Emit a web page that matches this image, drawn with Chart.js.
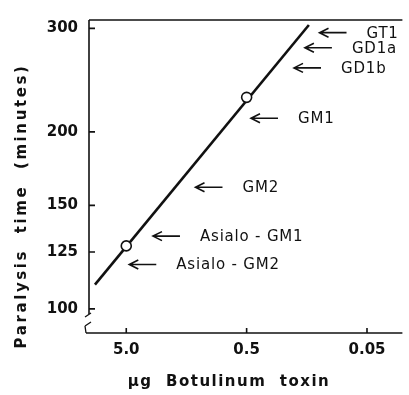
<!DOCTYPE html>
<html>
<head>
<meta charset="utf-8">
<script src="https://cdn.jsdelivr.net/npm/chart.js@4.4.0/dist/chart.umd.min.js"></script>
<style>
  html, body { margin: 0; padding: 0; background: #fff; }
  #wrap { width: 409px; height: 395px; }
</style>
</head>
<body>
<div id="wrap"><canvas id="myChart"></canvas></div>
<script>
// dose (ug) and paralysis time (minutes)
const fitDose = [9.1, 0.152];
const fitTime = [110, 304];
const measuredDose = [5.0, 0.5];
const measuredTime = [128, 229];

const xTicks = [5.0, 0.5, 0.05];
const xTickLabels = ['5.0', '0.5', '0.05'];
const yTicks = [100, 125, 150, 200, 300];

// gangliosides, arrow tip in data units
const ganglioside = ['GT1', 'GD1a', 'GD1b', 'GM1', 'GM2', 'Asialo - GM1', 'Asialo - GM2'];
const arrowDose = [0.124, 0.164, 0.202, 0.46, 1.33, 3.0, 4.72];
const arrowTime = [295, 278, 257, 211, 161, 133, 119];

const ink = '#111';
const fontFam = "'DejaVu Sans', sans-serif";

// frame, inward ticks, axis break, arrows and titles
const paperPlugin = {
  id: 'paper',
  afterDraw(chart) {
    const ctx = chart.ctx;
    const a = chart.chartArea;
    const xs = chart.scales.x, ys = chart.scales.y;
    ctx.save();
    ctx.strokeStyle = ink;
    ctx.lineWidth = 1.6;
    ctx.lineCap = 'butt';

    // top border
    ctx.beginPath();
    ctx.moveTo(a.left, a.top);
    ctx.lineTo(a.right, a.top);
    ctx.stroke();

    // left axis down to the break
    const yBreak = ys.getPixelForValue(100) + 5;
    ctx.beginPath();
    ctx.moveTo(a.left, a.top);
    ctx.lineTo(a.left, yBreak);
    ctx.stroke();

    // break mark
    ctx.lineWidth = 1.3;
    ctx.beginPath();
    ctx.moveTo(a.left - 4, yBreak + 3);
    ctx.lineTo(a.left + 2, yBreak - 1);
    ctx.moveTo(a.left - 4, yBreak + 12);
    ctx.lineTo(a.left + 2, yBreak + 8);
    ctx.moveTo(a.left - 4, yBreak + 12);
    ctx.lineTo(a.left - 3, a.bottom);
    ctx.stroke();

    // bottom axis
    ctx.lineWidth = 1.6;
    ctx.beginPath();
    ctx.moveTo(a.left - 3, a.bottom);
    ctx.lineTo(a.right, a.bottom);
    ctx.stroke();

    // inward ticks
    ctx.beginPath();
    yTicks.forEach(v => {
      const py = ys.getPixelForValue(v);
      ctx.moveTo(a.left, py);
      ctx.lineTo(a.left + 6, py);
    });
    xTicks.forEach(v => {
      const px = xs.getPixelForValue(v);
      ctx.moveTo(px, a.bottom);
      ctx.lineTo(px, a.bottom - 5);
    });
    ctx.stroke();

    // arrows + labels
    ctx.lineWidth = 1.6;
    ctx.fillStyle = ink;
    ctx.font = "15px " + fontFam;
    if ('letterSpacing' in ctx) ctx.letterSpacing = '0.8px';
    ctx.textAlign = 'left';
    ctx.textBaseline = 'middle';
    ganglioside.forEach((name, i) => {
      const px = xs.getPixelForValue(arrowDose[i]);
      const py = ys.getPixelForValue(arrowTime[i]);
      ctx.beginPath();
      ctx.moveTo(px, py);
      ctx.lineTo(px + 27, py);
      ctx.moveTo(px + 9, py - 4.5);
      ctx.lineTo(px, py);
      ctx.lineTo(px + 9, py + 4.5);
      ctx.stroke();
      ctx.fillText(name, px + 47, py + 1);
    });

    // axis titles
    ctx.font = "bold 15px " + fontFam;
    ctx.textAlign = 'center';
    if ('letterSpacing' in ctx) ctx.letterSpacing = '1.5px';
    ctx.fillText('\u00b5g  Botulinum  toxin', 229, 382);
    if ('letterSpacing' in ctx) ctx.letterSpacing = '2.6px';
    ctx.translate(22, 206);
    ctx.rotate(-Math.PI / 2);
    ctx.fillText('Paralysis  time  (minutes)', 0, 0);
    ctx.restore();
  }
};

const chart = new Chart(document.getElementById('myChart'), {
  type: 'line',
  data: {
    datasets: [{
      label: 'fit',
      data: fitDose.map((d, i) => ({ x: d, y: fitTime[i] })),
      borderColor: ink,
      borderWidth: 2.6,
      pointRadius: 0,
      fill: false,
      order: 2
    }, {
      label: 'measured',
      data: measuredDose.map((d, i) => ({ x: d, y: measuredTime[i] })),
      showLine: false,
      pointRadius: 5,
      pointBorderWidth: 1.6,
      pointBorderColor: ink,
      pointBackgroundColor: '#fff',
      order: 1
    }]
  },
  options: {
    responsive: true,
    maintainAspectRatio: false,
    animation: false,
    layout: { padding: { top: 8, right: 2, left: 0, bottom: 0 } },
    plugins: {
      legend: { display: false },
      tooltip: { enabled: false }
    },
    scales: {
      x: {
        type: 'logarithmic',
        reverse: true,
        min: 0.0254,
        max: 10.2,
        afterBuildTicks: s => { s.ticks = xTicks.map(v => ({ value: v })); },
        afterFit: s => { s.height = 62; },
        grid: { display: false, drawTicks: false },
        border: { display: false },
        ticks: {
          padding: 8,
          color: ink,
          font: { size: 15, family: fontFam, weight: 'bold' },
          maxRotation: 0,
          autoSkip: false,
          callback: v => xTickLabels[xTicks.indexOf(v)]
        }
      },
      y: {
        type: 'logarithmic',
        min: 91,
        max: 310,
        afterBuildTicks: s => { s.ticks = yTicks.map(v => ({ value: v })); },
        afterFit: s => { s.width = 89; },
        grid: { display: false, drawTicks: false },
        border: { display: false },
        ticks: {
          padding: 11,
          color: ink,
          font: { size: 15, family: fontFam, weight: 'bold' },
          autoSkip: false,
          callback: v => String(v)
        }
      }
    }
  },
  plugins: [paperPlugin]
});
</script>
</body>
</html>
